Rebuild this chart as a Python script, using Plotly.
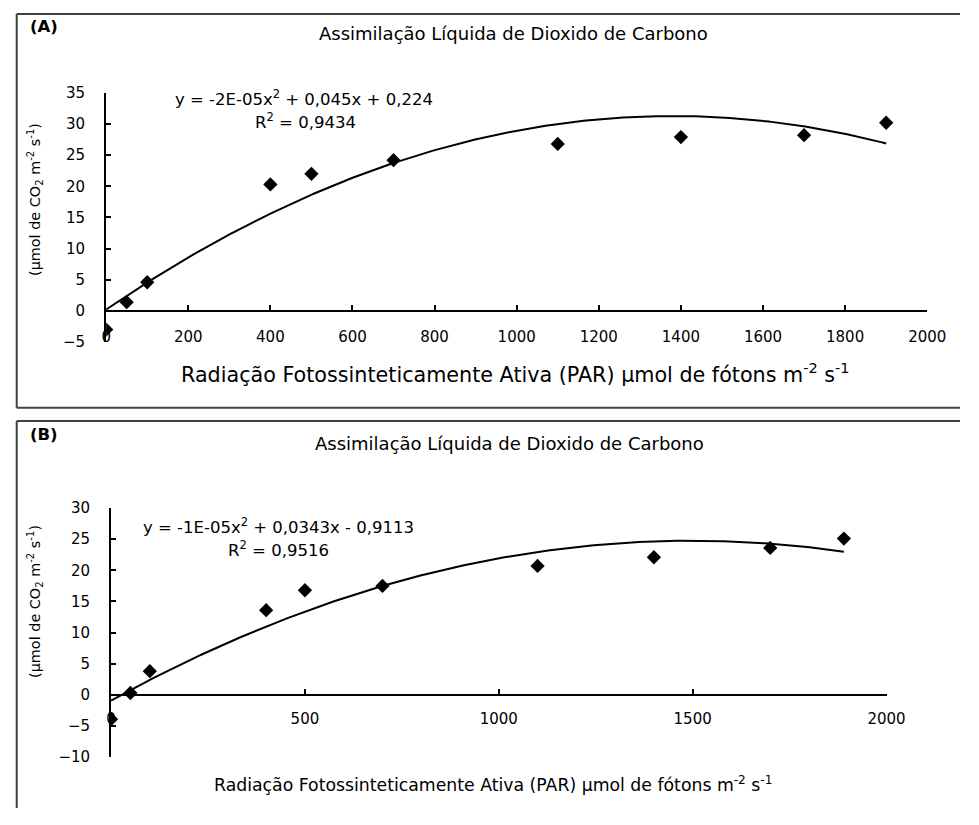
import numpy as np
import plotly.graph_objects as go

# ---------------- data ----------------
par_a = [0, 50, 100, 400, 500, 700, 1100, 1400, 1700, 1900]
assim_a = [-3.0, 1.4, 4.6, 20.3, 22.0, 24.2, 26.8, 27.9, 28.2, 30.2]
fit_a = [-1.63e-5, 0.045, 0.224]          # quadratic trendline (a, b, c)

par_b = [0, 50, 100, 400, 500, 700, 1100, 1400, 1700, 1890]
assim_b = [-3.9, 0.3, 3.8, 13.6, 16.8, 17.5, 20.7, 22.1, 23.6, 25.1]
fit_b = [-1.146e-5, 0.0343, -0.9113]

ticks_a = [0, 200, 400, 600, 800, 1000, 1200, 1400, 1600, 1800, 2000]
ticks_b = [0, 500, 1000, 1500, 2000]

title_txt = "Assimilação Líquida de Dioxido de Carbono"
eq_a = "y = -2E-05x<sup>2</sup> + 0,045x + 0,224"
r2_a = "R<sup>2</sup> = 0,9434"
eq_b = "y = -1E-05x<sup>2</sup> + 0,0343x - 0,9113"
r2_b = "R<sup>2</sup> = 0,9516"
ytitle = "(µmol de CO<sub>2</sub> m<sup>-2</sup> s<sup>-1</sup>)"
xtitle = "Radiação Fotossinteticamente Ativa (PAR) µmol de fótons m<sup>-2</sup> s<sup>-1</sup>"

# ---------------- layout helpers ----------------
# the page renders the figure about 8 px lower than its own top edge
OFFY = 8
W, H = 979, 825 - OFFY
FONT = "DejaVu Sans"


def px(x):
    return x / W


def py(y):
    return 1 - (y - OFFY) / H


def trend(coef, xmax):
    xs = np.linspace(0, xmax, 300)
    return xs, np.polyval(coef, xs)


fig = go.Figure()

xa, ya = trend(fit_a, max(par_a))
fig.add_trace(go.Scatter(x=xa, y=ya, mode="lines", line=dict(color="black", width=2),
                         xaxis="x", yaxis="y", showlegend=False, hoverinfo="skip"))
fig.add_trace(go.Scatter(x=par_a, y=assim_a, mode="markers",
                         marker=dict(symbol="diamond", size=11, color="black"),
                         xaxis="x", yaxis="y", showlegend=False))

xb, yb = trend(fit_b, max(par_b))
fig.add_trace(go.Scatter(x=xb, y=yb, mode="lines", line=dict(color="black", width=2),
                         xaxis="x2", yaxis="y2", showlegend=False, hoverinfo="skip"))
fig.add_trace(go.Scatter(x=par_b, y=assim_b, mode="markers",
                         marker=dict(symbol="diamond", size=11, color="black"),
                         xaxis="x2", yaxis="y2", showlegend=False))

tickfont = dict(family=FONT, size=15, color="black")

common_x = dict(showgrid=False, zeroline=False, showline=True, linecolor="black", linewidth=2,
                ticks="inside", ticklen=5, tickwidth=1.5, tickcolor="black", tickfont=tickfont,
                anchor="free", side="bottom")
common_y = dict(showgrid=False, zeroline=False, showline=True, linecolor="black", linewidth=2,
                ticks="inside", ticklen=5, tickwidth=1.5, tickcolor="black", tickfont=tickfont,
                dtick=5, ticklabelstandoff=16)

fig.update_layout(
    width=W, height=H,
    margin=dict(l=0, r=0, t=0, b=0),
    paper_bgcolor="white", plot_bgcolor="rgba(0,0,0,0)",
    font=dict(family=FONT, color="black"),
    xaxis=dict(domain=[px(103.7), px(945.4)], range=[0, 2000], position=py(316.7),
               tickvals=ticks_a, ticktext=[str(t) for t in ticks_a], ticklabelstandoff=12,
               **common_x),
    yaxis=dict(domain=[py(348.55), py(93.75)], range=[-5, 35], anchor="x", **common_y),
    xaxis2=dict(domain=[px(108.7), px(903.7)], range=[0, 2000], position=py(709.3),
                tickvals=ticks_b, ticktext=[str(t) for t in ticks_b], ticklabelstandoff=10,
                **common_x),
    yaxis2=dict(domain=[py(773.0), py(518.3)], range=[-10, 30], anchor="x2", **common_y),
)

# frames
frame = dict(color="#404040", width=2)
for (x0, y0, x1, y1) in [(12, 13, 979, 13), (12, 13, 12, 415.7), (12, 415.7, 979, 415.7),
                         (12, 429.3, 979, 429.3), (12, 429.3, 12, 825)]:
    fig.add_shape(type="line", xref="paper", yref="paper",
                  x0=px(x0), y0=py(y0), x1=px(x1), y1=py(y1), line=frame)


def ann(text, x, y, size, bold=False, angle=0):
    fig.add_annotation(text=("<b>%s</b>" % text) if bold else text, x=px(x), y=py(y),
                       xref="paper", yref="paper", xanchor="center", yanchor="middle",
                       showarrow=False, textangle=angle,
                       font=dict(family=FONT, size=size, color="black"))


# panel A texts
ann("(A)", 40, 26, 16.5, bold=True)
ann(title_txt, 521, 33, 18)
ann(eq_a, 307, 99, 16.5)
ann(r2_a, 308, 123, 16.5)
ann(ytitle, 30, 203, 14.4, angle=-90)
ann(xtitle, 523, 381, 20.7)

# panel B texts
ann("(B)", 40, 443, 16.5, bold=True)
ann(title_txt, 517, 452, 18)
ann(eq_b, 280, 537, 16.5)
ann(r2_b, 280, 560, 16.5)
ann(ytitle, 30, 614, 14.4, angle=-90)
ann(xtitle, 500, 800, 17.3)

fig.write_html("out.html")
